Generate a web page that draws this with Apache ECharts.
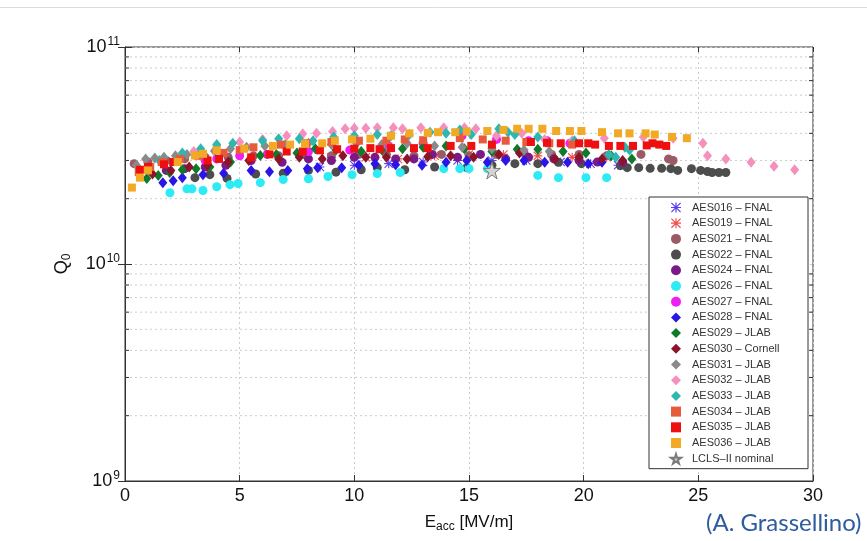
<!DOCTYPE html>
<html>
<head>
<meta charset="utf-8">
<script src="https://cdn.jsdelivr.net/npm/echarts@6/dist/echarts.min.js"></script>
<style>
  html, body { margin: 0; padding: 0; background: #fff; }
  #chart { width: 867px; height: 541px; }
</style>
</head>
<body>
<div id="chart"></div>
<script>
  // Q0 values are in units of 1e10, Eacc in MV/m
  const aes016E = [8.5, 10.0, 11.5, 13.0, 14.5, 16.0, 17.5, 19.0, 20.3, 21.5]
  const aes016Q = [2.8, 2.85, 2.9, 2.95, 3.0, 3.0, 3.0, 2.95, 2.9, 2.85]
  const aes019E = [9.0, 10.5, 11.9, 13.5, 15.0, 16.5, 18.0, 19.5, 21.0]
  const aes019Q = [3.1, 3.1, 3.05, 3.15, 3.2, 3.2, 3.15, 3.1, 3.1]
  const aes021E = [0.4, 1.0, 1.8, 2.6, 3.5, 4.5, 5.6, 6.7, 7.8, 9.0, 10.2, 11.4, 12.6, 13.8, 15.0, 16.2, 17.4, 18.6, 19.8, 21.0, 22.5, 23.7, 23.9]
  const aes021Q = [2.9, 2.95, 3.0, 3.05, 3.1, 3.1, 3.15, 3.15, 3.2, 3.15, 3.2, 3.2, 3.15, 3.2, 3.15, 3.2, 3.25, 3.2, 3.2, 3.15, 3.2, 3.05, 3.0]
  const aes022E = [3.05, 3.7, 4.45, 5.7, 6.9, 8.0, 9.2, 10.3, 11.0, 12.2, 13.5, 14.9, 16.0, 17.0, 18.0, 18.9, 19.9, 21.6, 21.9, 22.4, 22.9, 23.4, 23.8, 24.1, 24.7, 25.1, 25.4, 25.6, 25.9, 26.2]
  const aes022Q = [2.5, 2.58, 2.48, 2.6, 2.62, 2.7, 2.65, 2.72, 2.78, 2.72, 2.8, 2.78, 2.85, 2.9, 2.9, 2.94, 2.9, 2.84, 2.78, 2.78, 2.76, 2.76, 2.75, 2.7, 2.75, 2.7, 2.67, 2.64, 2.64, 2.64]
  const aes024E = [1.8, 2.6, 3.5, 4.4, 5.5, 6.85, 8.0, 9.0, 10.0, 10.9, 11.8, 12.6, 13.4, 14.5, 15.5, 16.6, 17.6, 18.7, 19.8, 20.6, 21.7]
  const aes024Q = [2.7, 2.75, 2.8, 2.85, 3.0, 2.94, 3.05, 3.0, 3.1, 3.1, 3.05, 3.05, 3.2, 3.1, 3.2, 3.05, 3.1, 3.05, 3.0, 2.95, 2.94]
  const aes026E = [1.96, 2.7, 2.92, 3.4, 4.0, 4.58, 4.93, 5.9, 6.9, 8.0, 8.85, 9.9, 11.0, 12.0, 13.9, 14.6, 15.0, 15.8, 18.0, 18.9, 20.1, 21.0]
  const aes026Q = [2.13, 2.22, 2.22, 2.18, 2.27, 2.32, 2.35, 2.37, 2.45, 2.47, 2.53, 2.58, 2.61, 2.64, 2.75, 2.75, 2.75, 2.75, 2.56, 2.5, 2.5, 2.5]
  const aes027E = [3.5, 4.0, 5.0, 6.2, 8.0, 9.8, 11.5, 13.0, 14.7, 16.2, 17.6, 18.4, 19.4]
  const aes027Q = [3.0, 3.05, 3.15, 3.2, 3.3, 3.35, 3.5, 3.6, 3.9, 3.75, 3.7, 3.7, 3.6]
  const aes028E = [1.65, 2.1, 2.5, 3.4, 4.3, 5.5, 6.3, 7.1, 7.95, 8.4, 9.45, 10.2, 10.9, 11.8, 12.95, 14.0, 14.9, 15.8, 16.6, 17.4, 18.3, 19.3, 20.2, 20.8]
  const aes028Q = [2.37, 2.42, 2.5, 2.58, 2.62, 2.7, 2.66, 2.7, 2.75, 2.78, 2.78, 2.85, 2.9, 2.87, 2.85, 2.94, 3.0, 2.94, 3.0, 3.0, 2.94, 2.94, 2.9, 2.94]
  const aes029E = [0.95, 1.45, 1.95, 2.5, 3.1, 3.7, 4.6, 5.9, 6.6, 7.5, 8.3, 9.2, 10.3, 11.2, 12.1, 13.0, 14.0, 14.8, 16.0, 17.1, 18.0, 19.1, 20.1, 21.2, 22.1]
  const aes029Q = [2.48, 2.56, 2.64, 2.72, 2.75, 2.8, 2.95, 3.16, 3.2, 3.25, 3.4, 3.35, 3.3, 3.35, 3.4, 3.45, 3.5, 3.4, 3.3, 3.38, 3.38, 3.3, 3.25, 3.15, 3.05]
  const aes030E = [1.2, 2.0, 2.8, 3.6, 4.5, 5.4, 6.7, 7.6, 8.6, 9.5, 10.5, 11.4, 12.3, 13.2, 14.2, 15.2, 16.3, 17.2, 18.75, 19.8, 20.8, 21.7]
  const aes030Q = [2.6, 2.7, 2.8, 2.85, 2.95, 3.0, 3.05, 3.1, 3.05, 3.15, 3.1, 3.1, 3.05, 3.12, 3.15, 3.1, 3.2, 3.25, 3.05, 3.1, 3.05, 3.0]
  const aes031E = [0.5, 0.9, 1.3, 1.7, 2.2, 2.7, 3.3, 3.9, 4.6, 5.3, 6.1, 7.0, 8.0, 9.0, 10.1, 11.2, 12.3, 13.5, 14.7, 16.0, 17.4, 18.5]
  const aes031Q = [2.85, 3.05, 3.08, 3.1, 3.15, 3.2, 3.28, 3.32, 3.4, 3.45, 3.5, 3.55, 3.6, 3.55, 3.6, 3.55, 3.6, 3.5, 3.45, 3.4, 3.35, 3.3]
  const aes032E = [3.0, 4.0, 5.0, 6.0, 7.05, 7.75, 8.35, 9.05, 9.6, 10.0, 10.5, 11.0, 11.7, 12.1, 12.9, 13.9, 14.8, 15.3, 16.2, 17.3, 18.3, 19.5, 20.9, 22.6, 23.9, 25.2, 25.4, 26.2, 27.3, 28.3, 29.2]
  const aes032Q = [3.3, 3.5, 3.65, 3.75, 3.9, 3.98, 4.0, 4.08, 4.2, 4.22, 4.22, 4.25, 4.25, 4.2, 4.25, 4.25, 4.25, 4.2, 3.9, 4.0, 3.75, 3.7, 3.8, 3.85, 3.8, 3.6, 3.15, 3.05, 2.94, 2.82, 2.72]
  const aes033E = [1.5, 2.5, 3.3, 4.0, 4.7, 6.0, 6.7, 7.6, 8.2, 9.1, 10.0, 11.0, 11.6, 12.4, 13.3, 14.0, 14.6, 15.1, 16.3, 16.7, 17.0, 18.0, 19.6, 21.1, 21.4, 21.8, 22.0]
  const aes033Q = [3.0, 3.25, 3.4, 3.55, 3.6, 3.7, 3.78, 3.78, 3.7, 3.85, 3.9, 3.95, 3.9, 3.95, 4.05, 4.0, 4.15, 3.95, 4.2, 4.05, 3.95, 3.85, 3.7, 3.2, 3.1, 3.45, 3.35]
  const aes034E = [0.6, 1.1, 1.6, 2.4, 3.2, 4.3, 5.0, 5.6, 6.8, 7.9, 9.0, 10.2, 11.4, 12.2, 13.0, 14.6, 15.6, 16.6, 17.5, 18.5, 19.5]
  const aes034Q = [2.65, 2.8, 2.95, 3.05, 3.15, 3.25, 3.35, 3.45, 3.55, 3.6, 3.65, 3.7, 3.7, 3.75, 3.72, 3.8, 3.75, 3.7, 3.65, 3.6, 3.55]
  const aes035E = [0.65, 1.0, 1.7, 2.1, 3.6, 4.1, 5.5, 6.3, 7.05, 7.75, 8.5, 9.25, 10.0, 10.7, 11.1, 11.6, 12.6, 13.2, 14.2, 15.1, 16.0, 17.7, 18.4, 19.0, 19.8, 20.2, 20.5, 21.1, 21.6, 22.15, 22.75, 23.0, 23.3, 23.6]
  const aes035Q = [2.72, 2.8, 2.88, 2.95, 3.0, 3.05, 3.1, 3.2, 3.3, 3.3, 3.34, 3.38, 3.4, 3.42, 3.38, 3.42, 3.42, 3.42, 3.5, 3.5, 3.55, 3.65, 3.62, 3.6, 3.6, 3.6, 3.55, 3.5, 3.5, 3.5, 3.52, 3.6, 3.55, 3.5]
  const aes036E = [0.3, 0.65, 1.0, 2.3, 3.05, 3.4, 4.0, 5.2, 6.45, 7.2, 7.85, 8.6, 9.15, 9.9, 10.7, 11.6, 12.4, 13.2, 13.65, 14.4, 14.9, 15.8, 16.5, 17.1, 17.6, 18.2, 18.8, 19.4, 19.9, 20.8, 21.5, 22.0, 22.7, 23.1, 23.85, 24.5]
  const aes036Q = [2.25, 2.5, 2.7, 2.95, 3.16, 3.22, 3.34, 3.4, 3.5, 3.55, 3.58, 3.6, 3.7, 3.75, 3.78, 3.9, 4.0, 4.02, 4.05, 4.05, 4.08, 4.1, 4.15, 4.2, 4.2, 4.2, 4.1, 4.1, 4.1, 4.05, 4.0, 4.0, 4.0, 3.95, 3.85, 3.8]
  const lclsE = [16.0]
  const lclsQ = [2.7]

  const xTicks = [0, 5, 10, 15, 20, 25, 30]
  const minorTicks = [2e9, 3e9, 4e9, 5e9, 6e9, 7e9, 8e9, 9e9, 2e10, 3e10, 4e10, 5e10, 6e10, 7e10, 8e10, 9e10]

  const FONT = 'Liberation Sans'
  const ASTERISK = 'path://M4.4 0h1.2v10h-1.2z M0 4.4h10v1.2h-10z M0 0.85L0.85 0L10 9.15L9.15 10Z M9.15 0L10 0.85L0.85 10L0 9.15Z'
  const STAR = 'path://M50 0L61 35L98 35L68 57L79 91L50 70L21 91L32 57L2 35L39 35Z'

  const generateSeries = (name, es, qs, symbol, size, color) => {
    return {
      name,
      type: 'scatter',
      symbol,
      symbolSize: size,
      itemStyle: { color, opacity: 1 },
      data: es.map((e, i) => [e, qs[i] * 1e10]),
      animation: false
    }
  }

  const seriesList = [
    generateSeries('AES016 – FNAL', aes016E, aes016Q, ASTERISK, 9, '#5B3BF5'),
    generateSeries('AES019 – FNAL', aes019E, aes019Q, ASTERISK, 9, '#F0504A'),
    generateSeries('AES021 – FNAL', aes021E, aes021Q, 'circle', 9, '#9B5A66'),
    generateSeries('AES022 – FNAL', aes022E, aes022Q, 'circle', 9, '#4D4D4D'),
    generateSeries('AES024 – FNAL', aes024E, aes024Q, 'circle', 9, '#7A1A88'),
    generateSeries('AES026 – FNAL', aes026E, aes026Q, 'circle', 9, '#2CEBF5'),
    generateSeries('AES027 – FNAL', aes027E, aes027Q, 'circle', 9, '#F01EF0'),
    generateSeries('AES028 – FNAL', aes028E, aes028Q, 'diamond', [9, 11], '#2A14E6'),
    generateSeries('AES029 – JLAB', aes029E, aes029Q, 'diamond', [9, 11], '#0E7A2A'),
    generateSeries('AES030 – Cornell', aes030E, aes030Q, 'diamond', [9, 11], '#8C1428'),
    generateSeries('AES031 – JLAB', aes031E, aes031Q, 'diamond', [9, 11], '#8A8A8A'),
    generateSeries('AES032 – JLAB', aes032E, aes032Q, 'diamond', [9, 11], '#F590BE'),
    generateSeries('AES033 – JLAB', aes033E, aes033Q, 'diamond', [9, 11], '#2CB8B0'),
    generateSeries('AES034 – JLAB', aes034E, aes034Q, 'rect', 8, '#E85A3C'),
    generateSeries('AES035 – JLAB', aes035E, aes035Q, 'rect', 8, '#EE1010'),
    generateSeries('AES036 – JLAB', aes036E, aes036Q, 'rect', 8, '#F2A926')
  ]
  const lcls = generateSeries('LCLS–II nominal', lclsE, lclsQ, STAR, 17, '#d4d4d4')
  lcls.itemStyle.borderColor = '#7a7a7a'
  lcls.itemStyle.borderWidth = 1
  seriesList.push(lcls)

  // log minor grid lines and minor ticks (left and right)
  const minorSeries = {
    name: 'minor',
    type: 'custom',
    silent: true,
    z: 1,
    animation: false,
    data: minorTicks.map(v => [xTicks[0], v]),
    renderItem(params, api) {
      const v = api.value(1)
      const a = api.coord([xTicks[0], v])
      const b = api.coord([xTicks[xTicks.length - 1], v])
      return {
        type: 'group',
        children: [
          { type: 'line', shape: { x1: a[0], y1: a[1], x2: b[0], y2: b[1] }, style: { stroke: '#cccccc', lineWidth: 1, lineDash: [2, 3] } },
          { type: 'line', shape: { x1: a[0], y1: a[1], x2: a[0] + 4, y2: a[1] }, style: { stroke: '#333', lineWidth: 1 } },
          { type: 'line', shape: { x1: b[0] - 4, y1: b[1], x2: b[0], y2: b[1] }, style: { stroke: '#333', lineWidth: 1 } }
        ]
      }
    }
  }

  const chart = echarts.init(document.getElementById('chart'))
  const gridLine = { show: true, lineStyle: { color: '#cccccc', type: [2, 3], width: 1 } }
  chart.setOption({
    backgroundColor: '#fff',
    animation: false,
    textStyle: { fontFamily: FONT },
    grid: { left: 125, right: 54, top: 47, bottom: 60, show: true, borderColor: '#333', borderWidth: 1 },
    legend: {
      orient: 'vertical',
      left: 649,
      top: 197,
      itemWidth: 10,
      itemHeight: 10,
      itemGap: 4.7,
      padding: [5, 7, 4, 21],
      borderColor: '#333',
      borderWidth: 1,
      backgroundColor: '#fff',
      data: seriesList.map(s => s.name),
      textStyle: { fontFamily: FONT, fontSize: 11, color: '#333', width: 109, lineHeight: 10, padding: [0, 0, 0, 6] }
    },
    xAxis: [
      {
        type: 'value',
        min: xTicks[0],
        max: xTicks[xTicks.length - 1],
        interval: 5,
        axisLine: { show: true, lineStyle: { color: '#333' } },
        axisTick: { show: true, inside: true, length: 6, lineStyle: { color: '#333' } },
        splitLine: gridLine,
        axisLabel: { color: '#111', fontSize: 18, margin: 6, fontFamily: FONT },
        name: '{n|E}{s|acc}{n| [MV/m]}',
        nameLocation: 'middle',
        nameGap: 30,
        nameTextStyle: {
          rich: {
            n: { fontSize: 17, color: '#111', fontFamily: FONT },
            s: { fontSize: 12, color: '#111', fontFamily: FONT, padding: [10, 0, 0, 0] }
          }
        }
      },
      {
        type: 'value',
        position: 'top',
        min: xTicks[0],
        max: xTicks[xTicks.length - 1],
        interval: 5,
        axisLine: { show: false },
        axisTick: { show: true, inside: true, length: 5, lineStyle: { color: '#333' } },
        axisLabel: { show: false },
        splitLine: { show: false }
      }
    ],
    yAxis: [
      {
        type: 'log',
        logBase: 10,
        min: 1e9,
        max: 1e11,
        axisLine: { show: true, lineStyle: { color: '#333' } },
        axisTick: { show: true, inside: true, length: 7, lineStyle: { color: '#333' } },
        splitLine: gridLine,
        axisLabel: {
          margin: 5,
          formatter: v => '{b|10}{sup|' + Math.round(Math.log10(v)) + '}',
          rich: {
            b: { fontSize: 18, color: '#111', fontFamily: FONT },
            sup: { fontSize: 12, color: '#111', fontFamily: FONT, padding: [0, 0, 10, 1] }
          }
        },
        name: '{n|Q}{s|0}',
        nameLocation: 'middle',
        nameRotate: 90,
        nameGap: 52,
        nameTextStyle: {
          rich: {
            n: { fontSize: 18, color: '#111', fontFamily: FONT },
            s: { fontSize: 12, color: '#111', fontFamily: FONT, padding: [10, 0, 0, 0] }
          }
        }
      },
      {
        type: 'log',
        logBase: 10,
        min: 1e9,
        max: 1e11,
        position: 'right',
        axisLine: { show: false },
        axisTick: { show: true, inside: true, length: 7, lineStyle: { color: '#333' } },
        axisLabel: { show: false },
        splitLine: { show: false }
      }
    ],
    graphic: [
      { type: 'line', shape: { x1: 0, y1: 7.5, x2: 867, y2: 7.5 }, style: { stroke: '#dcdcdc', lineWidth: 1 } },
      { type: 'text', left: 706, top: 511, style: { text: '(A. Grassellino)', fontFamily: 'Lato', fontSize: 24, fill: '#2F5C9E' } }
    ],
    series: [minorSeries].concat(seriesList)
  })
</script>
</body>
</html>
